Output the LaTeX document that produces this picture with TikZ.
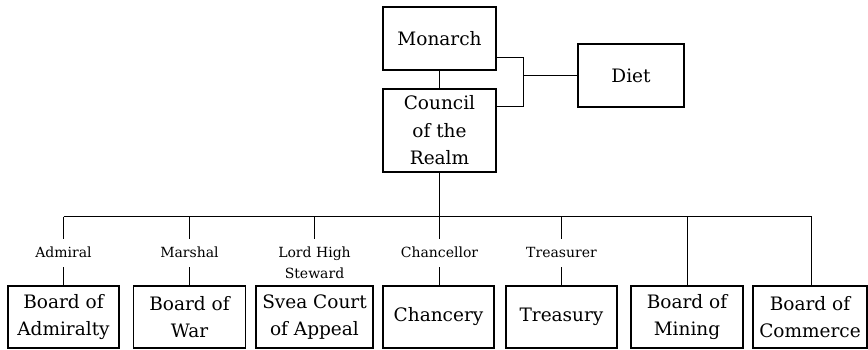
\documentclass[tikz,border=0pt]{standalone}
\usepackage{fontspec}
\setmainfont{DejaVu Serif}
\usetikzlibrary{calc}
\begin{document}
\begin{tikzpicture}[x=1pt,y=-1pt,
  box/.style={draw,line width=1.6pt,align=center,inner sep=0pt,
    font=\fontsize{18.5}{27.5}\selectfont},
  role/.style={anchor=north,align=center,inner xsep=0pt,inner ysep=8pt,
    text height=10pt,text depth=2pt,font=\fontsize{14}{21}\selectfont},
  link/.style={line width=1.1pt}]
\useasboundingbox (0,0) rectangle (868,350);
% top
\node[box,minimum width=113pt,minimum height=63pt] (monarch) at (439.5,38.5) {Monarch};
\node[box,minimum width=113pt,minimum height=83pt] (council) at (439.5,130.5) {Council\\of the\\Realm};
\node[box,minimum width=106pt,minimum height=63pt] (diet) at (631,75.5) {Diet};
\coordinate (j) at (523.5,75.5);
\draw[link] (monarch) -- (council);
\draw[link] ($(monarch.south east)+(0,-13)$) -| (j) |- ($(council.north east)+(0,18)$);
\draw[link] (j) -- (j -| diet.west);
% bus
\coordinate (b1) at (63.5,216.5);
\coordinate (b2) at (189.5,216.5);
\coordinate (b3) at (314.5,216.5);
\coordinate (b4) at (439.5,216.5);
\coordinate (b5) at (561.5,216.5);
\coordinate (b6) at (687.5,216.5);
\coordinate (b7) at (811.5,216.5);
\draw[link] (council) -- (b4);
\draw[link] (b1) -- (b7);
% bottom boxes
\node[box,minimum width=111pt,minimum height=62pt] (adm) at (63.5,317) {Board of\\Admiralty};
\node[box,minimum width=112pt,minimum height=62pt] (war) at (189.5,317) {Board of\\War};
\node[box,minimum width=117pt,minimum height=62pt] (svea) at (314.5,317) {Svea Court\\of Appeal};
\node[box,minimum width=111pt,minimum height=62pt] (chan) at (438.5,317) {Chancery};
\node[box,minimum width=111pt,minimum height=62pt] (tre) at (561.5,317) {Treasury};
\node[box,minimum width=112pt,minimum height=62pt] (min) at (687,317) {Board of\\Mining};
\node[box,minimum width=114pt,minimum height=62pt] (com) at (810,317) {Board of\\Commerce};
% roles
\node[role] (radm) at (63.5,239) {Admiral};
\node[role] (rwar) at (189.5,239) {Marshal};
\node[role,text height=31pt] (rsvea) at (314.5,239) {Lord High\\Steward};
\node[role] (rchan) at (439.5,239) {Chancellor};
\node[role] (rtre) at (561.5,239) {Treasurer};
\draw[link] (b1) -- (radm.north); \draw[link] (radm.south) -- (adm.north -| radm.south);
\draw[link] (b2) -- (rwar.north); \draw[link] (rwar.south) -- (war.north -| rwar.south);
\draw[link] (b3) -- (rsvea.north);
\draw[link] (b4) -- (rchan.north); \draw[link] (rchan.south) -- (chan.north -| rchan.south);
\draw[link] (b5) -- (rtre.north); \draw[link] (rtre.south) -- (tre.north -| rtre.south);
\draw[link] (b6) -- (min.north -| b6);
\draw[link] (b7) -- (com.north -| b7);
\end{tikzpicture}
\end{document}
